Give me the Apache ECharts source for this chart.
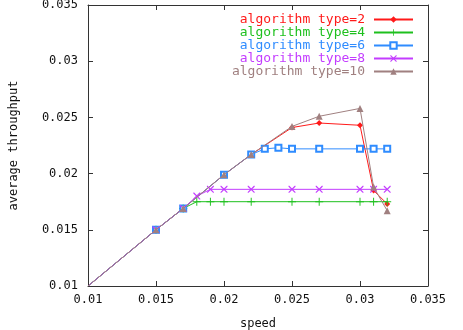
<!DOCTYPE html>
<html>
<head>
<meta charset="utf-8">
<script src="https://cdn.jsdelivr.net/npm/echarts@6/dist/echarts.min.js"></script>
<style>
  html, body { margin: 0; padding: 0; background: #fff; }
  #chart { width: 463px; height: 330px; }
</style>
</head>
<body>
<div id="chart"></div>
<script>
// speed values and average throughput per algorithm type
const speed2 = [0.01, 0.015, 0.017, 0.02, 0.022, 0.025, 0.027, 0.03, 0.031, 0.032];
const tput2 = [0.01, 0.015, 0.0169, 0.0199, 0.0217, 0.0241, 0.0245, 0.0243, 0.0185, 0.0173];

const speed4 = [0.01, 0.015, 0.017, 0.018, 0.019, 0.02, 0.022, 0.025, 0.027, 0.03, 0.031, 0.032];
const tput4 = [0.01, 0.015, 0.0169, 0.0175, 0.0175, 0.0175, 0.0175, 0.0175, 0.0175, 0.0175, 0.0175, 0.0175];

const speed6 = [0.01, 0.015, 0.017, 0.02, 0.022, 0.023, 0.024, 0.025, 0.027, 0.03, 0.031, 0.032];
const tput6 = [0.01, 0.015, 0.0169, 0.0199, 0.0217, 0.0222, 0.0223, 0.0222, 0.0222, 0.0222, 0.0222, 0.0222];

const speed8 = [0.01, 0.015, 0.017, 0.018, 0.019, 0.02, 0.022, 0.025, 0.027, 0.03, 0.031, 0.032];
const tput8 = [0.01, 0.015, 0.0169, 0.018, 0.0186, 0.0186, 0.0186, 0.0186, 0.0186, 0.0186, 0.0186, 0.0186];

const speed10 = [0.01, 0.015, 0.017, 0.02, 0.022, 0.025, 0.027, 0.03, 0.031, 0.032];
const tput10 = [0.01, 0.015, 0.0169, 0.0199, 0.0217, 0.0242, 0.0251, 0.0258, 0.0188, 0.0167];

const names = ['algorithm type=2', 'algorithm type=4', 'algorithm type=6', 'algorithm type=8', 'algorithm type=10'];
const colors = ['#ff1a1a', '#1ec01e', '#2f8cff', '#c33cff', '#a08080'];

const FONT = 'DejaVu Sans Mono';
const PLUS = 'path://M0,4.4L10,4.4L10,5.6L0,5.6Z M4.4,0L5.6,0L5.6,10L4.4,10Z';
const CROSS = 'path://M0,0L1.2,0L10,8.8L10,10L8.8,10L0,1.2Z M8.8,0L10,0L10,1.2L1.2,10L0,10L0,8.8Z';

// the first point sits in the corner of the frame and has no marker there
const zip = (xs, ys) => xs.map((x, i) => (i === 0 ? { value: [x, ys[i]], symbol: 'none' } : [x, ys[i]]));
const fmt = (v) => String(+v.toFixed(3));

const chart = echarts.init(document.getElementById('chart'), null, { renderer: 'canvas' });

const axisLine = { lineStyle: { color: '#333', width: 1 } };
const tick = { inside: true, length: 5, lineStyle: { color: '#333' } };
const label = { color: '#111', fontFamily: FONT, fontSize: 12 };

const mk = (i, xs, ys, symbol, size, extra) => ({
  name: names[i],
  type: 'line',
  data: zip(xs, ys),
  symbol,
  symbolSize: size,
  showSymbol: true,
  lineStyle: { color: colors[i], width: 1 },
  itemStyle: Object.assign({ color: colors[i] }, extra || {}),
  emphasis: { disabled: true },
  z: 2 + i,
});

chart.setOption({
  animation: false,
  backgroundColor: '#fff',
  grid: { left: 88, right: 35, top: 5, bottom: 44, outerBoundsMode: 'none', containLabel: false },
  legend: {
    orient: 'vertical',
    right: 44,
    top: 8,
    align: 'right',
    itemWidth: 39,
    itemHeight: 8,
    itemGap: 0,
    data: names.map((n, i) => ({ name: n, textStyle: { color: colors[i] } })),
    textStyle: { fontFamily: FONT, fontSize: 13, lineHeight: 13, padding: [0, 4, 0, 0] },
  },
  xAxis: [
    {
      type: 'value', min: 0.01, max: 0.035, interval: 0.005,
      name: 'speed', nameLocation: 'middle', nameGap: 32,
      nameTextStyle: { color: '#111', fontFamily: FONT, fontSize: 12 },
      axisLine, axisTick: tick,
      axisLabel: Object.assign({ margin: 8, formatter: fmt }, label),
      splitLine: { show: false },
    },
    {
      type: 'value', position: 'top', min: 0.01, max: 0.035, interval: 0.005,
      axisLine, axisTick: tick, axisLabel: { show: false }, splitLine: { show: false },
    },
  ],
  yAxis: [
    {
      type: 'value', min: 0.01, max: 0.035, interval: 0.005,
      name: 'average throughput', nameLocation: 'middle', nameGap: 68, nameRotate: 90,
      nameTextStyle: { color: '#111', fontFamily: FONT, fontSize: 12 },
      axisLine, axisTick: tick,
      axisLabel: Object.assign({ margin: 10, formatter: fmt }, label),
      splitLine: { show: false },
    },
    {
      type: 'value', position: 'right', min: 0.01, max: 0.035, interval: 0.005,
      axisLine, axisTick: tick, axisLabel: { show: false }, splitLine: { show: false },
    },
  ],
  series: [
    mk(0, speed2, tput2, 'diamond', 6),
    mk(1, speed4, tput4, PLUS, 8),
    mk(2, speed6, tput6, 'emptyRect', 6, { borderWidth: 1.2 }),
    mk(3, speed8, tput8, CROSS, 7),
    mk(4, speed10, tput10, 'triangle', 7),
  ],
});
</script>
</body>
</html>
